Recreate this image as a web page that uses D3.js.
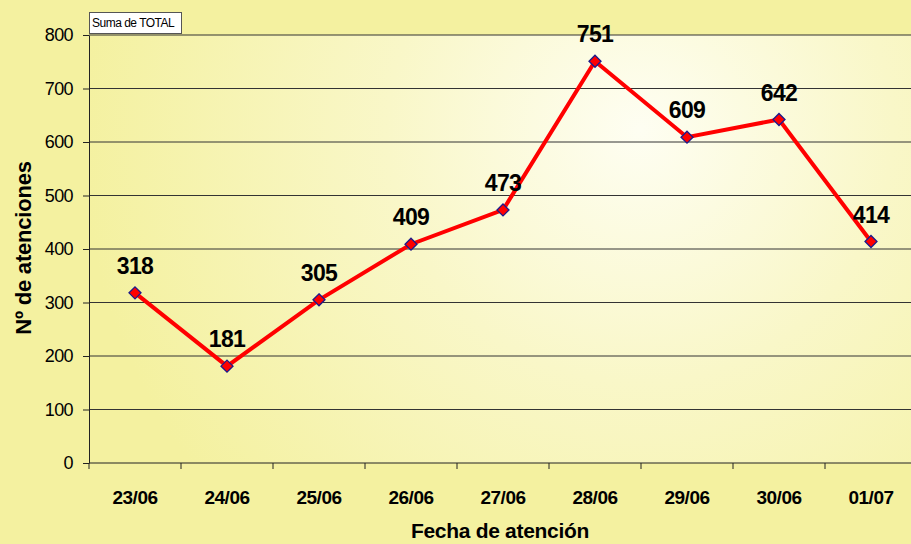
<!DOCTYPE html>
<html>
<head>
<meta charset="utf-8">
<script src="https://cdn.jsdelivr.net/npm/d3@7"></script>
<style>
  body { margin: 0; background: #f4f1a0; }
  svg { display: block; font-family: Arial, "Liberation Sans", sans-serif; }
</style>
</head>
<body>
<div id="chart"></div>
<script>
// data
var fechas = ['23/06', '24/06', '25/06', '26/06', '27/06', '28/06', '29/06', '30/06', '01/07'];
var totales = [318, 181, 305, 409, 473, 751, 609, 642, 414];
var yTicks = [0, 100, 200, 300, 400, 500, 600, 700, 800];

var W = 911, H = 544;
var margin = { top: 35, right: -6, bottom: 81, left: 89 };
var width = W - margin.left - margin.right;
var height = H - margin.top - margin.bottom;

var svg = d3.select("#chart").append("svg")
  .attr("width", W)
  .attr("height", H);

var defs = svg.append("defs");
var grad = defs.append("radialGradient")
  .attr("id", "bg")
  .attr("gradientUnits", "userSpaceOnUse")
  .attr("cx", 640).attr("cy", 130).attr("r", 560);
grad.append("stop").attr("offset", "0%").attr("stop-color", "#fefef2");
grad.append("stop").attr("offset", "45%").attr("stop-color", "#f9f7c8");
grad.append("stop").attr("offset", "100%").attr("stop-color", "#f4f1a0");

svg.append("rect")
  .attr("width", W).attr("height", H)
  .attr("fill", "#f4f1a0");

var g = svg.append("g")
  .attr("transform", "translate(" + margin.left + "," + margin.top + ")");

// plot area fill (gradient in svg coords)
svg.insert("rect", "g")
  .attr("x", margin.left).attr("y", margin.top)
  .attr("width", width).attr("height", height)
  .attr("fill", "url(#bg)");

var x = d3.scaleBand().domain(fechas).range([0, width]);
var y = d3.scaleLinear().domain([0, 800]).range([height, 0]);

// gridlines
g.selectAll(".grid")
  .data(yTicks.filter(function(d) { return d > 0; }))
  .enter().append("line")
  .attr("x1", 0).attr("x2", width)
  .attr("y1", function(d) { return y(d); })
  .attr("y2", function(d) { return y(d); })
  .attr("stroke", "#333")
  .attr("stroke-width", 1);

// y axis
var yAxis = g.append("g")
  .call(d3.axisLeft(y).tickValues(yTicks).tickSize(6).tickPadding(10).tickSizeOuter(0));
yAxis.select(".domain").attr("stroke", "#222");
yAxis.selectAll("line").attr("stroke", "#222");
yAxis.selectAll("text")
  .attr("font-size", 18)
  .attr("fill", "#000")
  .attr("letter-spacing", -0.6)
  .attr("font-family", "Arial, 'Liberation Sans', sans-serif");

// x axis with ticks at band edges
var xAxis = g.append("g")
  .attr("transform", "translate(0," + height + ")");
xAxis.append("line")
  .attr("x1", 0).attr("x2", width)
  .attr("stroke", "#222");
xAxis.selectAll(".tk")
  .data(fechas)
  .enter().append("line")
  .attr("x1", function(d) { return x(d); })
  .attr("x2", function(d) { return x(d); })
  .attr("y1", 0).attr("y2", 6)
  .attr("stroke", "#222");
xAxis.selectAll(".lbl")
  .data(fechas)
  .enter().append("text")
  .attr("x", function(d) { return x(d) + x.bandwidth() / 2; })
  .attr("y", 41)
  .attr("text-anchor", "middle")
  .attr("font-size", 19)
  .attr("font-weight", "bold")
  .attr("letter-spacing", -0.5)
  .text(function(d) { return d; });

// line
var line = d3.line()
  .x(function(d, i) { return x(fechas[i]) + x.bandwidth() / 2; })
  .y(function(d) { return y(d); });

g.append("path")
  .datum(totales)
  .attr("d", line)
  .attr("fill", "none")
  .attr("stroke", "#ff0000")
  .attr("stroke-width", 4)
  .attr("stroke-linejoin", "miter");

// markers
g.selectAll(".pt")
  .data(totales)
  .enter().append("path")
  .attr("d", "M0,-6L6,0L0,6L-6,0Z")
  .attr("transform", function(d, i) {
    return "translate(" + (x(fechas[i]) + x.bandwidth() / 2) + "," + y(d) + ")";
  })
  .attr("fill", "#ff0000")
  .attr("stroke", "#1a1a8c")
  .attr("stroke-width", 1.3);

// value labels
g.selectAll(".val")
  .data(totales)
  .enter().append("text")
  .attr("x", function(d, i) { return x(fechas[i]) + x.bandwidth() / 2; })
  .attr("y", function(d) { return y(d) - 19; })
  .attr("text-anchor", "middle")
  .attr("font-size", 23)
  .attr("font-weight", "bold")
  .attr("letter-spacing", -0.6)
  .text(function(d) { return d; });

// axis titles
svg.append("text")
  .attr("x", 500).attr("y", 538)
  .attr("text-anchor", "middle")
  .attr("font-size", 21)
  .attr("font-weight", "bold")
  .attr("letter-spacing", -0.3)
  .text("Fecha de atención");

svg.append("text")
  .attr("transform", "translate(31,248) rotate(-90)")
  .attr("text-anchor", "middle")
  .attr("font-size", 22)
  .attr("font-weight", "bold")
  .attr("letter-spacing", -0.2)
  .text("Nº de atenciones");

// field button
svg.append("rect")
  .attr("x", 89.5).attr("y", 12.5)
  .attr("width", 92).attr("height", 21)
  .attr("fill", "#fff")
  .attr("stroke", "#555");
svg.append("text")
  .attr("x", 92).attr("y", 27)
  .attr("font-size", 12)
  .attr("letter-spacing", -0.5)
  .text("Suma de TOTAL");
</script>
</body>
</html>
